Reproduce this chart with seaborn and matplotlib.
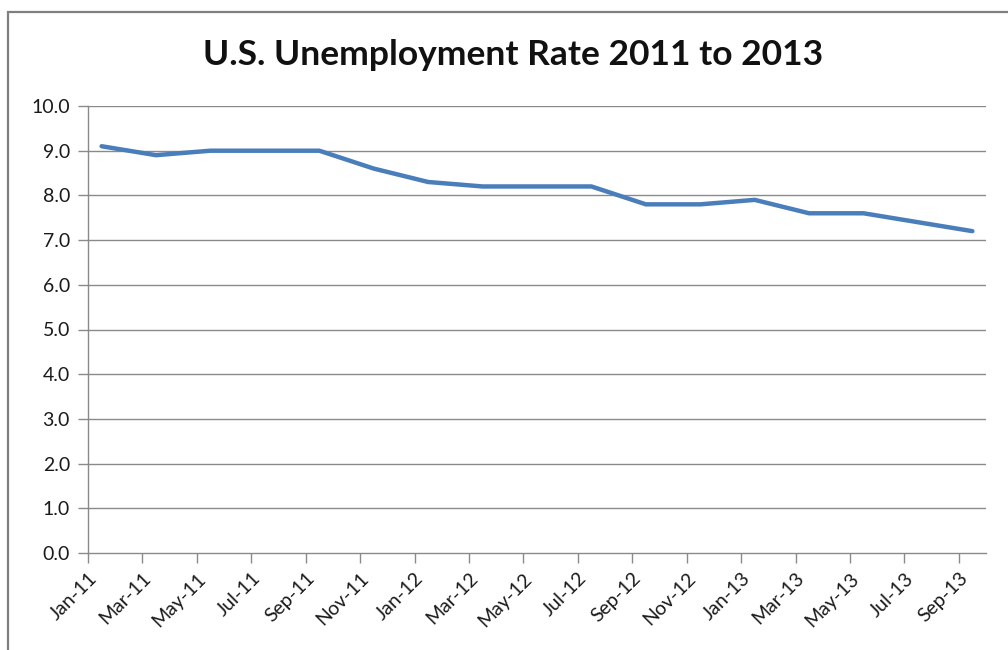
import matplotlib
matplotlib.use("Agg")
import matplotlib.pyplot as plt
import seaborn as sns
import pandas as pd
import numpy as np
from matplotlib.patches import Rectangle

months = ["Jan-11", "Mar-11", "May-11", "Jul-11", "Sep-11", "Nov-11",
          "Jan-12", "Mar-12", "May-12", "Jul-12", "Sep-12", "Nov-12",
          "Jan-13", "Mar-13", "May-13", "Jul-13", "Sep-13"]
rates = [9.1, 8.9, 9.0, 9.0, 9.0, 8.6,
         8.3, 8.2, 8.2, 8.2, 7.8, 7.8,
         7.9, 7.6, 7.6, 7.4, 7.2]
y_ticks = [0.0, 1.0, 2.0, 3.0, 4.0, 5.0, 6.0, 7.0, 8.0, 9.0, 10.0]
title = "U.S. Unemployment Rate 2011 to 2013"

sns.set_theme(style="white")
plt.rcParams['font.family'] = ['Lato', 'DejaVu Sans']

# month offset of each label (every 2 months), point sits mid-month
month_idx = np.arange(len(months)) * 2
df = pd.DataFrame({"x": month_idx + 0.5, "rate": rates})

W, H = 1008, 650
fig = plt.figure(figsize=(W / 100, H / 100), dpi=100)
ax = fig.add_axes([88 / W, 1 - 553 / H, 898 / W, 447 / H])

grid_c = "#8a8a8a"
for v in y_ticks[1:]:
    ax.axhline(v, color=grid_c, lw=1.0, zorder=1)

sns.lineplot(data=df, x="x", y="rate", ax=ax, color="#4A7EBB",
             linewidth=3.2, zorder=3, solid_capstyle="round",
             solid_joinstyle="round")

ax.set_xlim(0, len(months) * 2 - 1)
ax.set_ylim(0, 10)
ax.set_yticks(y_ticks)
ax.set_yticklabels([f"{v:.1f}" for v in y_ticks], fontsize=14, color="#1a1a1a")
ax.set_xticks(month_idx)
ax.set_xticklabels(months, rotation=45, ha="right", rotation_mode="anchor",
                   fontsize=14, color="#1a1a1a")
ax.set_xlabel("")
ax.set_ylabel("")

for s in ["top", "right"]:
    ax.spines[s].set_visible(False)
for s in ["left", "bottom"]:
    ax.spines[s].set_color(grid_c)
    ax.spines[s].set_linewidth(1.0)

ax.tick_params(axis="both", which="both", direction="out", length=7,
               width=1.0, color=grid_c, left=True, bottom=True)
ax.tick_params(axis="y", pad=6)
ax.tick_params(axis="x", pad=5)

fig.text(513 / W, 1 - 55 / H, title, ha="center", va="center",
         fontsize=25.5, fontweight="bold", color="#111111")

# chart-area border (extends past the right and bottom edges)
fig.patches.append(Rectangle((8 / W, -0.05), 1.1, 1 - 12 / H + 0.05,
                             transform=fig.transFigure, fill=False,
                             edgecolor="#7f7f7f", linewidth=1.6, zorder=0))

fig.savefig("out.png", dpi=100, facecolor="white")
